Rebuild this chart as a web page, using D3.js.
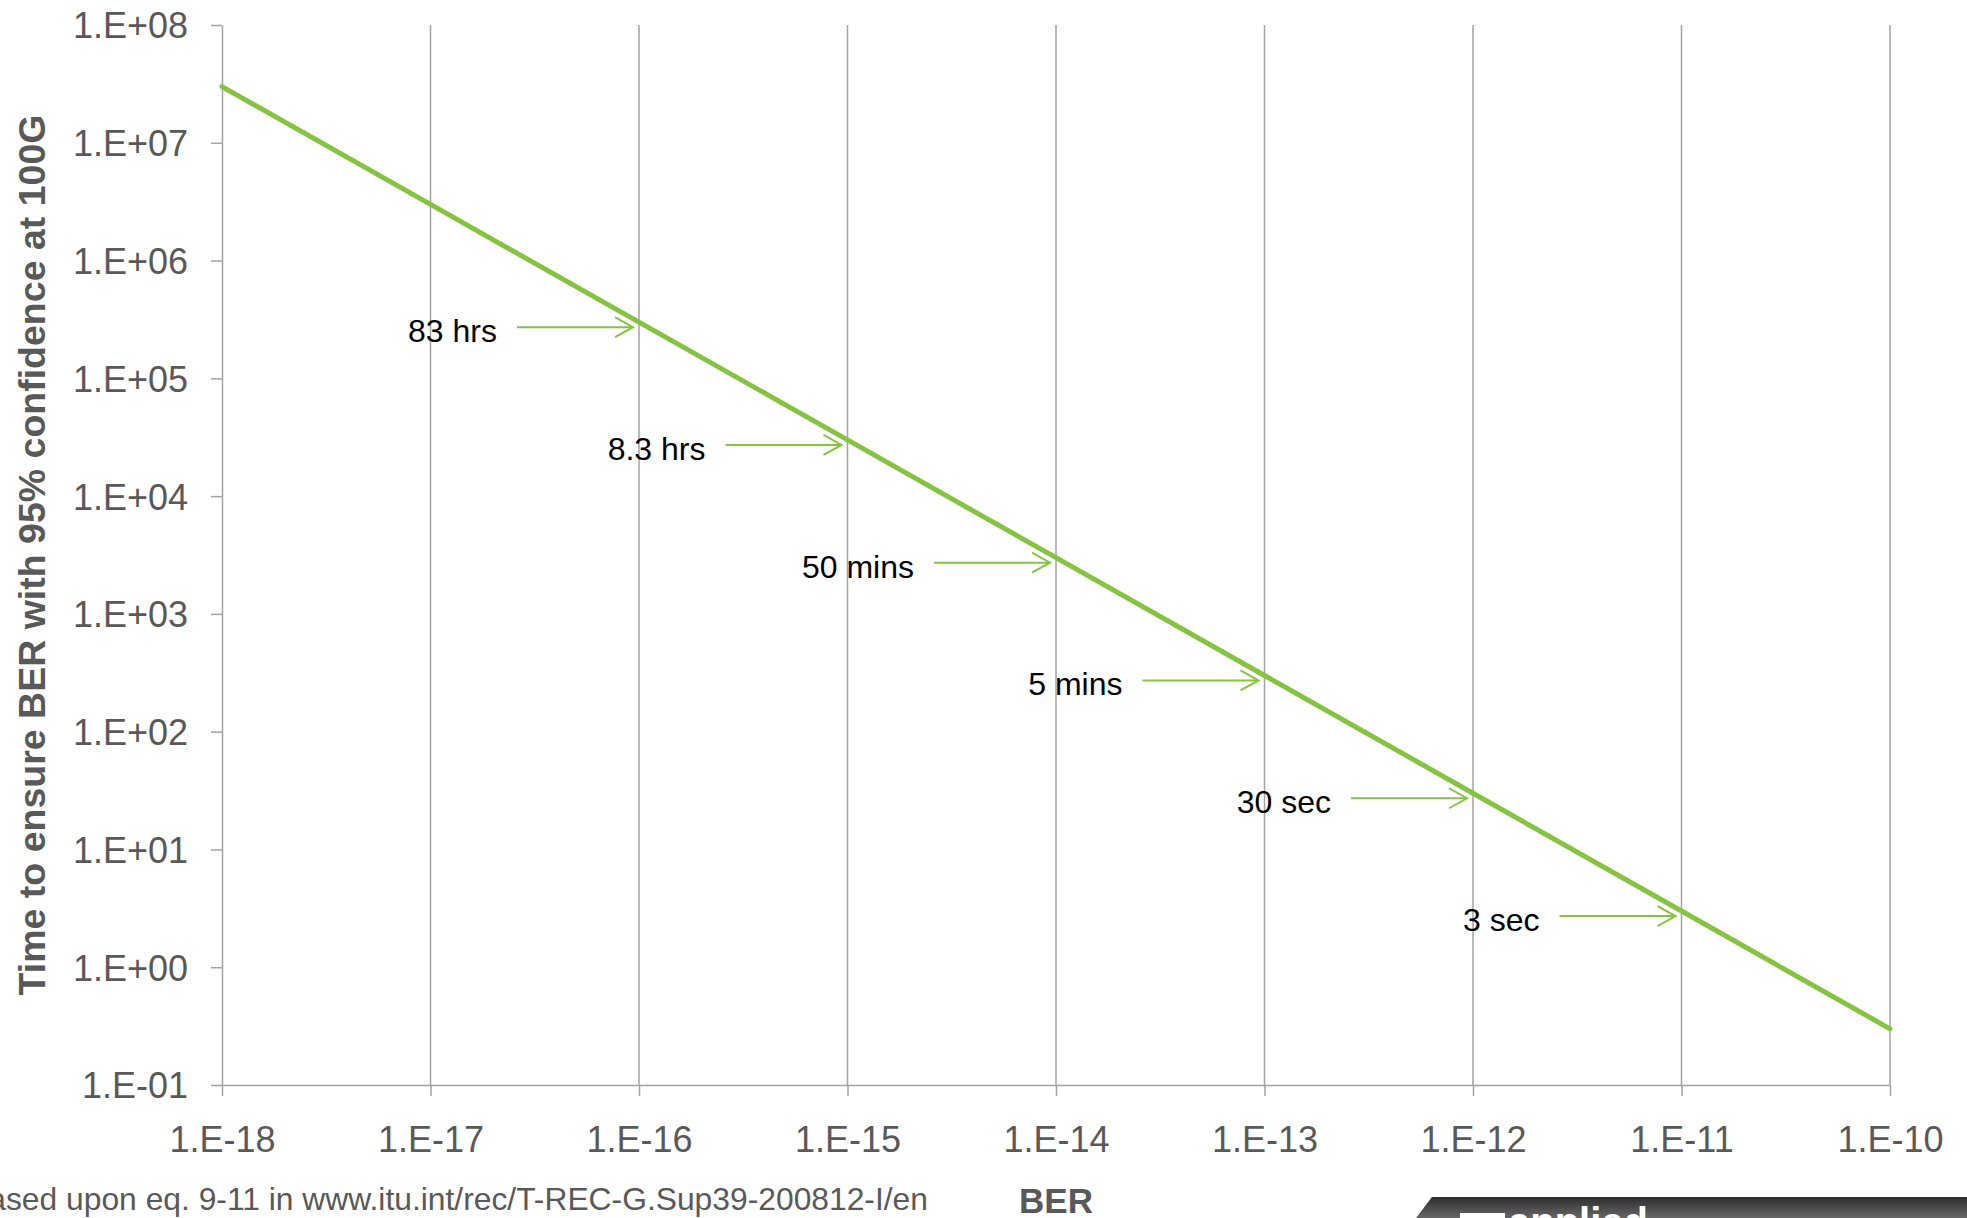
<!DOCTYPE html>
<html>
<head>
<meta charset="utf-8">
<script src="https://cdn.jsdelivr.net/npm/d3@7"></script>
<style>
  body { margin: 0; background: #fff; }
  svg { display: block; font-family: "Liberation Sans", Arial, sans-serif; }
</style>
</head>
<body>
<div id="chart"></div>
<script>
// data
const berValues = [1e-18, 1e-17, 1e-16, 1e-15, 1e-14, 1e-13, 1e-12, 1e-11, 1e-10];
const timeValues = [3e7, 3e6, 3e5, 3e4, 3e3, 3e2, 3e1, 3, 0.3];

const xTickValues = [1e-18, 1e-17, 1e-16, 1e-15, 1e-14, 1e-13, 1e-12, 1e-11, 1e-10];
const xTickLabels = ["1.E-18", "1.E-17", "1.E-16", "1.E-15", "1.E-14", "1.E-13", "1.E-12", "1.E-11", "1.E-10"];
const yTickValues = [1e8, 1e7, 1e6, 1e5, 1e4, 1e3, 1e2, 1e1, 1, 0.1];
const yTickLabels = ["1.E+08", "1.E+07", "1.E+06", "1.E+05", "1.E+04", "1.E+03", "1.E+02", "1.E+01", "1.E+00", "1.E-01"];

const annotBER = [1e-16, 1e-15, 1e-14, 1e-13, 1e-12, 1e-11];
const annotTime = [3e5, 3e4, 3e3, 3e2, 3e1, 3];
const annotLabels = ["83 hrs", "8.3 hrs", "50 mins", "5 mins", "30 sec", "3 sec"];

const W = 1967, H = 1218;
const plot = {left: 222, right: 1890, top: 25, bottom: 1085};
const green = "#85c341";
const axisGrey = "#a3a3a3";
const textGrey = "#595959";

const svg = d3.select("#chart").append("svg")
  .attr("width", W)
  .attr("height", H);

const x = d3.scaleLog().domain([1e-18, 1e-10]).range([plot.left, plot.right]);
const y = d3.scaleLog().domain([0.1, 1e8]).range([plot.bottom, plot.top]);

// vertical gridlines
svg.append("g").selectAll("line")
  .data(xTickValues.slice(1))
  .enter().append("line")
    .attr("x1", d => x(d)).attr("x2", d => x(d))
    .attr("y1", plot.top).attr("y2", plot.bottom)
    .attr("stroke", axisGrey)
    .attr("stroke-width", 1.5);

// x axis
const xAxis = svg.append("g")
  .attr("transform", `translate(0,${plot.bottom})`)
  .call(d3.axisBottom(x)
    .tickValues(xTickValues)
    .tickFormat((d, i) => xTickLabels[i])
    .tickSize(11)
    .tickSizeOuter(0)
    .tickPadding(30));

// y axis
const yAxis = svg.append("g")
  .attr("transform", `translate(${plot.left},0)`)
  .call(d3.axisLeft(y)
    .tickValues(yTickValues)
    .tickFormat((d, i) => yTickLabels[i])
    .tickSize(11)
    .tickSizeOuter(0)
    .tickPadding(23));

[xAxis, yAxis].forEach(g => {
  g.selectAll("path, line").attr("stroke", axisGrey).attr("stroke-width", 1.5);
  g.selectAll("text")
    .attr("fill", textGrey)
    .style("font-size", "36px")
    .style("font-family", "'Liberation Sans', Arial, sans-serif");
});
yAxis.selectAll("text").attr("dy", "0.36em");

// the BER line
const line = d3.line()
  .x((d, i) => x(berValues[i]))
  .y(d => y(d));

svg.append("path")
  .datum(timeValues)
  .attr("fill", "none")
  .attr("stroke", green)
  .attr("stroke-width", 5)
  .attr("stroke-linecap", "round")
  .attr("d", line);

// annotations with arrows
const annots = svg.append("g").selectAll("g")
  .data(annotLabels)
  .enter().append("g")
    .attr("transform", (d, i) => `translate(${x(annotBER[i]) - 6},${y(annotTime[i]) + 5})`);

annots.append("line")
  .attr("x1", -116).attr("x2", 0)
  .attr("y1", 0).attr("y2", 0)
  .attr("stroke", green)
  .attr("stroke-width", 2);

annots.append("path")
  .attr("d", "M-18,-10L0,0L-18,10")
  .attr("fill", "none")
  .attr("stroke", green)
  .attr("stroke-width", 2);

annots.append("text")
  .attr("x", -136)
  .attr("y", 15)
  .attr("text-anchor", "end")
  .style("font-size", "32px")
  .attr("fill", "#000")
  .text(d => d);

// axis titles
svg.append("text")
  .attr("transform", "translate(45,555) rotate(-90)")
  .attr("text-anchor", "middle")
  .attr("fill", textGrey)
  .style("font-size", "37.5px")
  .style("font-weight", "bold")
  .text("Time to ensure BER with 95% confidence at 100G");

svg.append("text")
  .attr("x", x(1e-14))
  .attr("y", 1213)
  .attr("text-anchor", "middle")
  .attr("fill", textGrey)
  .style("font-size", "35px")
  .style("font-weight", "bold")
  .text("BER");

// source note (cut off at left edge, as in the original)
svg.append("text")
  .attr("x", 928)
  .attr("y", 1210)
  .attr("text-anchor", "end")
  .attr("fill", textGrey)
  .style("font-size", "31.8px")
  .text("Based upon eq. 9-11 in www.itu.int/rec/T-REC-G.Sup39-200812-I/en");

// logo strip at the bottom right
const grad = svg.append("defs").append("linearGradient")
  .attr("id", "logoGrad")
  .attr("x1", 0).attr("y1", 0).attr("x2", 0).attr("y2", 1);
grad.append("stop").attr("offset", "0%").attr("stop-color", "#2e2e2e");
grad.append("stop").attr("offset", "100%").attr("stop-color", "#666");

svg.append("path")
  .attr("d", "M1432,1197L1967,1197L1967,1218L1416,1218Z")
  .attr("fill", "url(#logoGrad)");

svg.append("rect")
  .attr("x", 1460).attr("y", 1213)
  .attr("width", 45).attr("height", 8)
  .attr("fill", "#fff");

svg.append("text")
  .attr("x", 1508)
  .attr("y", 1236)
  .attr("fill", "#fff")
  .style("font-size", "40px")
  .style("font-weight", "bold")
  .text("applied");
</script>
</body>
</html>
